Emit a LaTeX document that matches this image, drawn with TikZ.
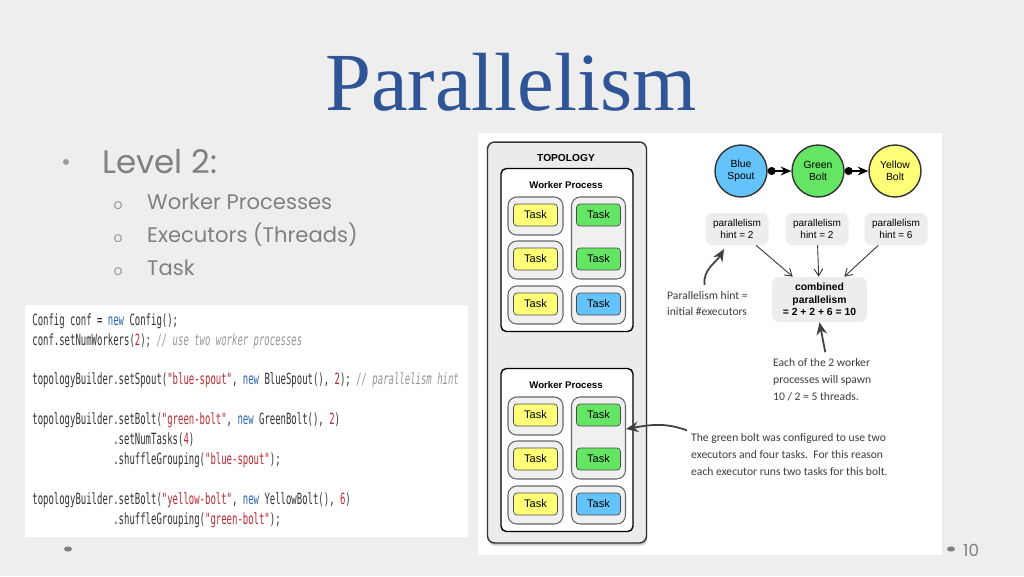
\documentclass[tikz,border=0pt]{standalone}
\usepackage{fontspec}
\usepackage{xcolor}
\usetikzlibrary{arrows.meta,shadows}

\newfontfamily\titlefont{Liberation Serif}
\newfontfamily\slidefont{Poppins}
\newfontfamily\diafont{Liberation Sans}
\newfontfamily\handfont{Carlito}
\newfontfamily\codefont[FakeStretch=0.58]{DejaVu Sans Mono}

\definecolor{bgcol}{RGB}{238,238,238}
\definecolor{titleblue}{RGB}{47,85,151}
\definecolor{slidegray}{RGB}{128,128,128}
\definecolor{taskyellow}{RGB}{255,255,120}
\definecolor{taskgreen}{RGB}{100,230,100}
\definecolor{taskblue}{RGB}{100,195,250}
\definecolor{codetext}{RGB}{50,50,50}
\definecolor{kwcol}{RGB}{40,100,190}
\definecolor{strcol}{RGB}{190,40,50}
\definecolor{cmtcol}{RGB}{150,150,150}
\definecolor{handink}{RGB}{60,60,60}

\newcommand{\ckw}[1]{\textcolor{kwcol}{#1}}
\newcommand{\cstr}[1]{\textcolor{strcol}{#1}}
\newcommand{\cnum}[1]{\textcolor{strcol}{#1}}
\newcommand{\ccmt}[1]{\textcolor{cmtcol}{\itshape #1}}

\tikzset{
  task/.style={draw=black!70, rounded corners=2pt, minimum width=0.88cm, minimum height=0.44cm,
    inner sep=0pt, font=\diafont\fontsize{6.3}{7}\selectfont},
  yellowtask/.style={task, fill=taskyellow},
  greentask/.style={task, fill=taskgreen},
  bluetask/.style={task, fill=taskblue},
  executor/.style={draw=black!60, fill=gray!12, rounded corners=5pt, line width=0.6pt,
    minimum width=1.1cm, minimum height=0.76cm, inner sep=0pt},
  worker/.style={draw=black, fill=white, rounded corners=3pt, line width=0.8pt,
    minimum width=2.64cm, minimum height=3.26cm, inner sep=0pt},
  boxlabel/.style={font=\diafont\bfseries\fontsize{5.5}{6}\selectfont},
  comp/.style={circle, draw=black!80, line width=0.8pt, minimum size=1.04cm, inner sep=0pt,
    align=center, font=\diafont\fontsize{5.9}{7}\selectfont},
  hintbox/.style={fill=gray!14, rounded corners=4pt, minimum width=1.26cm, minimum height=0.64cm,
    inner sep=0pt, align=center, font=\diafont\fontsize{5.7}{7}\selectfont},
  hand/.style={anchor=west, align=left, text=handink, font=\handfont\fontsize{6.6}{9.6}\selectfont},
  thinarr/.style={-{Straight Barb[length=4pt,width=5pt]}, line width=0.5pt, black!80},
  fatarr/.style={-{Stealth[length=7pt,width=6pt]}, line width=1pt, black!75},
  flow/.style={{Circle[length=4.5pt]}-{Stealth[length=6pt,width=5pt]}, line width=1.2pt},
  item/.style={anchor=base west, text=slidegray, font=\slidefont\fontsize{12}{14}\selectfont},
}

\begin{document}
\begin{tikzpicture}[x=0.02cm, y=-0.02cm]
  \fill[bgcol] (0,0) rectangle (1024,576);
  \useasboundingbox (0,0) rectangle (1024,576);

  \node (title) [anchor=base, text=titleblue, font=\titlefont\fontsize{47}{50}\selectfont] at (511,110) {Parallelism};

  \fill[slidegray!80] (66,162) circle (3);
  \node (lvl) [item, font=\slidefont\fontsize{18.5}{20}\selectfont] at (96,173) {Level 2:};
  \foreach \i/\y/\txt in {1/209/Worker Processes, 2/242/Executors (Threads), 3/275/Task}{
    \node (mk\i) [item, anchor=base, text=slidegray!80, font=\slidefont\fontsize{8}{9}\selectfont] at (118,\y) {o};
    \node (it\i) [item] at (141,\y) {\txt};
  }

  \fill[white] (25,305) rectangle (468,537);
  \node (code) [anchor=north west, align=left, inner sep=0pt, text=codetext,
    font=\codefont\fontsize{8.8}{11.34}\selectfont] at (32,313)
    {Config conf = \ckw{new} Config();\\
     conf.setNumWorkers(\cnum{2}); \ccmt{// use two worker processes}\\[11.34pt]
     topologyBuilder.setSpout(\cstr{"blue-spout"}, \ckw{new} BlueSpout(), \cnum{2}); \ccmt{// parallelism hint}\\[11.34pt]
     topologyBuilder.setBolt(\cstr{"green-bolt"}, \ckw{new} GreenBolt(), \cnum{2})\\
     \phantom{topologyBuilder}.setNumTasks(\cnum{4})\\
     \phantom{topologyBuilder}.shuffleGrouping(\cstr{"blue-spout"});\\[11.34pt]
     topologyBuilder.setBolt(\cstr{"yellow-bolt"}, \ckw{new} YellowBolt(), \cnum{6})\\
     \phantom{topologyBuilder}.shuffleGrouping(\cstr{"green-bolt"});};

  \fill[white] (478,133) rectangle (942,555);

  \node (topo) [draw=black!80, fill=gray!16, rounded corners=4pt, line width=0.8pt,
    minimum width=3.18cm, minimum height=8.02cm, drop shadow={shadow xshift=0.5pt, shadow yshift=-1.5pt, opacity=0.4}] at (567,342.5) {};
  \node (topol) [boxlabel, font=\diafont\bfseries\fontsize{5.8}{6}\selectfont] at (566,158) {TOPOLOGY};
  \foreach \w/\dy in {1/0,2/200}{
    \node (wp\w) [worker] at (567,{250+\dy}) {};
    \node (wpl\w) [boxlabel] at (566,{185+\dy}) {Worker Process};
    \node (exa\w) [executor] at (535.5,{216+\dy}) {};
    \node (exb\w) [executor] at (535.5,{260+\dy}) {};
    \node (exc\w) [executor] at (535.5,{305+\dy}) {};
    \node (exd\w) [executor, minimum width=1.08cm, minimum height=1.64cm] at (598.5,{238+\dy}) {};
    \node (exe\w) [executor, minimum width=1.08cm] at (598.5,{305+\dy}) {};
    \node (ya\w) [yellowtask] at (535.5,{215+\dy}) {Task};
    \node (yb\w) [yellowtask] at (535.5,{259+\dy}) {Task};
    \node (yc\w) [yellowtask] at (535.5,{304+\dy}) {Task};
    \node (ga\w) [greentask] at (598.5,{215+\dy}) {Task};
    \node (gb\w) [greentask] at (598.5,{259+\dy}) {Task};
    \node (ba\w) [bluetask] at (598.5,{304+\dy}) {Task};
  }

  \node (blue) [comp, fill=taskblue] at (741,171) {Blue\\Spout};
  \node (green) [comp, fill=taskgreen] at (818,171) {Green\\Bolt};
  \node (yellow) [comp, fill=taskyellow] at (895,171) {Yellow\\Bolt};
  \draw[flow] (blue) -- (green);
  \draw[flow] (green) -- (yellow);

  \node (h1) [hintbox] at (737,229) {parallelism\\hint = 2};
  \node (h2) [hintbox] at (817,229) {parallelism\\hint = 2};
  \node (h3) [hintbox] at (896,229) {parallelism\\hint = 6};
  \node (comb) [hintbox, minimum width=1.9cm, minimum height=0.9cm,
    font=\diafont\bfseries\fontsize{5.9}{7}\selectfont] at (819.5,299.5) {combined\\parallelism\\= 2 + 2 + 6 = 10};
  \draw[thinarr] (h1) -- (comb);
  \draw[thinarr] (h2) -- (comb);
  \draw[thinarr] (h3) -- (comb);

  \node (phint) [hand] at (661,303.5) {Parallelism hint =\\initial \#executors};
  \coordinate (h1tip) at (724,249);
  \draw[fatarr] ([xshift=-0.06cm]phint.north) to[out=95,in=-120] (h1tip);

  \node (each) [hand] at (767,379.5) {Each of the 2 worker\\processes will spawn\\10 / 2 = 5 threads.};
  \draw[fatarr] ([xshift=0.06cm]each.north) -- (comb.south);

  \node (gnote) [hand] at (685,454.5) {The green bolt was configured to use two\\executors and four tasks.\ \ For this reason\\each executor runs two tasks for this bolt.};
  \draw[fatarr] ([xshift=0.04cm,yshift=-0.06cm]gnote.north west) to[out=160,in=10] ([yshift=0.18cm]exd2.east);

  \fill[slidegray] (68,549) ellipse (4 and 2.6);
  \fill[slidegray] (951,549) ellipse (4 and 2.6);
  \node (pnum) [anchor=west, text=slidegray, font=\slidefont\fontsize{9.5}{10}\selectfont] at (957,550) {10};
\end{tikzpicture}
\end{document}
